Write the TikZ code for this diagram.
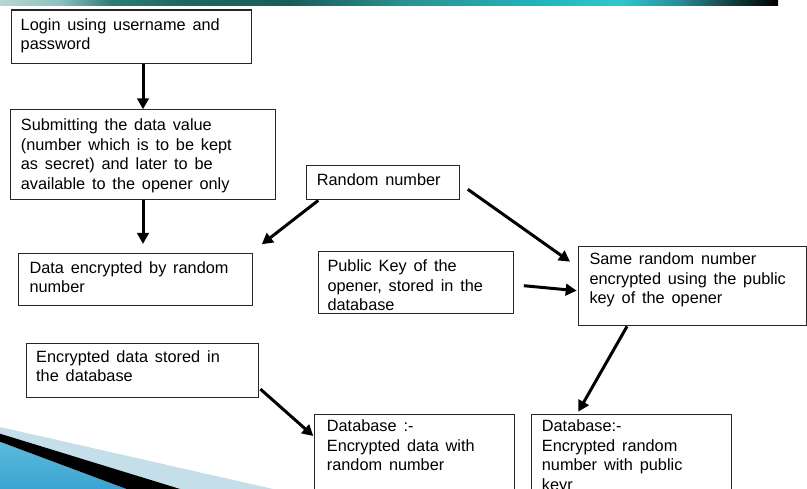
\documentclass[tikz,border=0pt]{standalone}
\usepackage{fontspec}
\setmainfont{Liberation Sans}
\usetikzlibrary{arrows.meta,calc}
\definecolor{tb0}{HTML}{B8D6D4}
\definecolor{tb1}{HTML}{8CC2BE}
\definecolor{tb2}{HTML}{2E7C78}
\definecolor{tb3}{HTML}{1C6864}
\definecolor{tb4}{HTML}{185C5A}
\definecolor{tb5}{HTML}{2A908E}
\definecolor{tb6}{HTML}{22B4BC}
\definecolor{tb7}{HTML}{2EC8CC}
\definecolor{tb8}{HTML}{2A8A98}
\definecolor{tb9}{HTML}{124040}
\definecolor{swlight}{HTML}{C4DEEA}
\definecolor{swblueA}{HTML}{5CBADC}
\definecolor{swblueB}{HTML}{3AA4D0}
\newcommand{\boxfont}{\fontsize{16.3}{19.5}\selectfont}
\newcommand{\widesp}{\spaceskip=0.42em\relax}
\begin{document}
\begin{tikzpicture}[x=1pt,y=-1pt,
  box/.style={draw=black!85, line width=1.1pt, inner sep=0pt, anchor=north west, fill=white},
  txt/.style={anchor=base west, inner sep=0pt, text width=#1, align=left,
    font=\boxfont, execute at begin node=\widesp},
  arr/.style={line width=3pt, -{Triangle[length=11pt,width=11.5pt]}}]
\useasboundingbox (0,0) rectangle (807,489);
\fill[white] (0,0) rectangle (807,489);
\begin{scope}
\clip (0,0) rectangle (807,489);
% top gradient bar
\shade[left color=tb0, right color=tb1] (0,0) rectangle (60.5,5.5);
\shade[left color=tb1, right color=tb2] (60,0) rectangle (110.5,5.5);
\shade[left color=tb2, right color=tb3] (110,0) rectangle (180.5,5.5);
\shade[left color=tb3, right color=tb4] (180,0) rectangle (290.5,5.5);
\shade[left color=tb4, right color=tb5] (290,0) rectangle (400.5,5.5);
\shade[left color=tb5, right color=tb6] (400,0) rectangle (540.5,5.5);
\shade[left color=tb6, right color=tb7] (540,0) rectangle (620.5,5.5);
\shade[left color=tb7, right color=tb8] (620,0) rectangle (680.5,5.5);
\shade[left color=tb8, right color=tb9] (680,0) rectangle (730.5,5.5);
\shade[left color=tb9, right color=black] (730,0) rectangle (778,5.5);
% bottom-left swoosh
\fill[swlight] (0,427) -- (273,489) -- (0,489) -- cycle;
\shade[top color=swblueA, bottom color=swblueB] (0,441.7) -- (126.7,489) -- (0,489) -- cycle;
\fill[black] (0,433.7) -- (180,489) -- (126.7,489) -- (0,441.7) -- cycle;

% boxes
\node[box, minimum width=240.2pt, minimum height=53.2pt] (login) at (10.5,9.5) {};
\node[box, minimum width=264.4pt, minimum height=90pt] (submit) at (10.3,109.3) {};
\node[box, minimum width=234pt, minimum height=51.7pt] (dataenc) at (18.3,253.3) {};
\node[box, minimum width=153pt, minimum height=34pt] (random) at (306,165) {};
\node[box, minimum width=195.6pt, minimum height=62.6pt] (pubkey) at (317.7,250.7) {};
\node[box, minimum width=227.2pt, minimum height=79.6pt] (same) at (578.3,245.7) {};
\node[box, minimum width=232.3pt, minimum height=53.4pt] (encstored) at (26,343.3) {};
\node[box, minimum width=200.3pt, minimum height=110pt] (dbdata) at (314,414) {};
\node[box, minimum width=200pt, minimum height=110pt] (dbrand) at (530.7,414) {};

% texts
\node[txt=228pt] (loginT) at ($(login.north west)+(10,21)$) {Login using username and\\password};
\node[txt=250pt] (submitT) at ($(submit.north west)+(10.4,21.4)$) {Submitting the data value\\(number which is to be kept\\as secret) and later to be\\available to the opener only};
\node[txt=220pt] (dataencT) at ($(dataenc.north west)+(11,20)$) {Data encrypted by random\\number};
\node[txt=140pt] (randomT) at ($(random.north west)+(10.7,20.7)$) {Random number};
\node[txt=184pt] (pubkeyT) at ($(pubkey.north west)+(9.6,21)$) {Public Key of the\\opener, stored in the\\database};
\node[txt=214pt] (sameT) at ($(same.north west)+(11,19.3)$) {Same random number\\encrypted using the public\\key of the opener};
\node[txt=220pt] (encstoredT) at ($(encstored.north west)+(10,19)$) {Encrypted data stored in\\the database};
\node[txt=186pt] (dbdataT) at ($(dbdata.north west)+(12.7,17.7)$) {Database :-\\Encrypted data with\\random number};
\node[txt=186pt] (dbrandT) at ($(dbrand.north west)+(11,17.7)$) {Database:-\\Encrypted random\\number with public\\keyr};

% connectors
\coordinate (cx) at (143,0);
\coordinate (a2tip) at ($(dataenc.north west)+(124.7,-9.3)$);
\coordinate (a3tip) at ($(dataenc.north east)+(8.4,-9)$);
\coordinate (a4tip) at ($(same.north west)+(-8.3,16)$);
\coordinate (a6tip) at ($(dbrand.north west)+(47.6,-2.3)$);
\coordinate (a7tip) at ($(dbdata.north west)+(-0.7,22)$);
\draw[arr] (login.south -| cx) -- (submit.north -| cx);
\draw[arr] (submit.south -| cx) -- (a2tip);
\draw[arr] ($(random.south west)+(12.3,0.3)$) -- (a3tip);
\draw[arr] ($(random.north east)+(7.7,24.3)$) -- (a4tip);
\draw[arr] ($(pubkey.north east)+(9.4,35)$) -- ($(same.north west)+(-1.6,45)$);
\draw[arr] ($(same.south west)+(48.7,0)$) -- (a6tip);
\draw[arr] ($(encstored.south east)+(1,-8.7)$) -- (a7tip);
\end{scope}
\end{tikzpicture}
\end{document}
